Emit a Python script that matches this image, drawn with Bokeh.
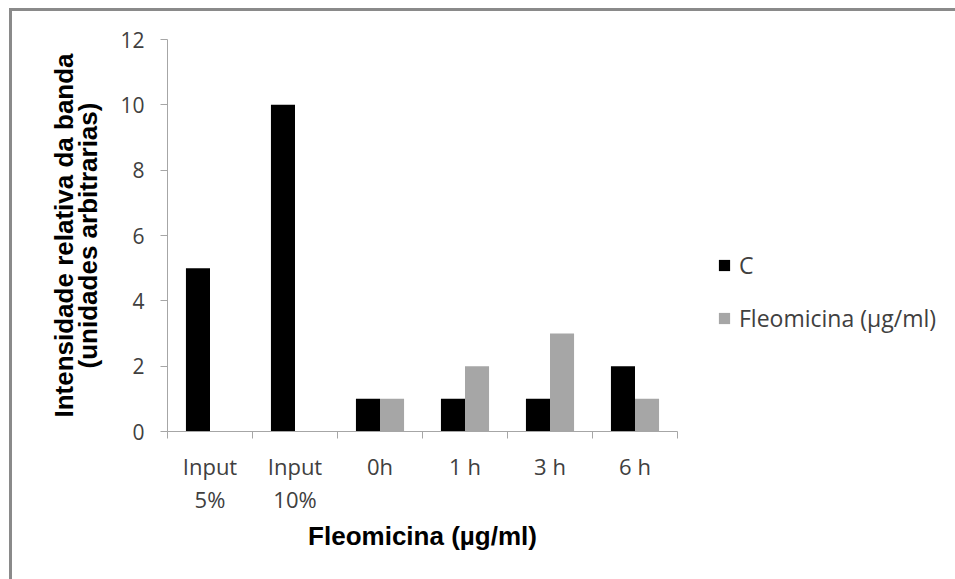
import numpy as np
from bokeh.plotting import figure
from bokeh.models import (Range1d, FixedTicker, Legend, LegendItem, ColumnDataSource)
from bokeh.transform import dodge
from bokeh.embed import file_html
from bokeh.resources import INLINE

# ---- data ----
categories = ["Input\n5%", "Input\n10%", "0h", "1 h", "3 h", "6 h"]
serie_c = [5, 10, 1, 1, 1, 2]
serie_fleo = [0, 0, 1, 2, 3, 1]
series_names = ["C", "Fleomicina (µg/ml)"]
y_ticks = [0, 2, 4, 6, 8, 10, 12]
x_title = "Fleomicina (µg/ml)"
y_title = "Intensidade relativa da banda\n(unidades arbitrarias)"

n = len(categories)
centers = [i + 0.5 for i in range(n)]
bounds = list(range(n + 1))
src = ColumnDataSource(dict(x=centers, c=serie_c, f=serie_fleo))

BLACK = "#000000"
GREY = "#a6a6a6"
AXIS = "#a6a6a6"
TXT = "#404040"

OFF_X, OFF_Y = 12, 11   # outer frame (border) offset
p = figure(frame_width=510, frame_height=392, output_backend="svg",
           toolbar_location=None,
           x_range=Range1d(0, n), y_range=Range1d(0, 12),
           min_border_left=167 - OFF_X, min_border_right=300,
           min_border_top=39 - OFF_Y, min_border_bottom=148)
p.styles = {"margin-left": "9px", "margin-top": "8px",
            "border-left": "3px solid #8a8a8a", "border-top": "3px solid #8a8a8a",
            "border-right": "0px none", "border-bottom": "0px none"}
p.outline_line_color = None
p.xgrid.visible = False
p.ygrid.visible = False
p.background_fill_color = "white"
p.border_fill_color = "white"

bw = 0.283
r_c = p.vbar(x=dodge("x", -bw / 2, range=p.x_range), top="c", width=bw, source=src,
             fill_color=BLACK, line_color=None)
r_f = p.vbar(x=dodge("x", bw / 2, range=p.x_range), top="f", width=bw, source=src,
             fill_color=GREY, line_color=None)

# x axis
xa = p.xaxis[0]
xa.ticker = FixedTicker(ticks=centers, minor_ticks=bounds)
xa.major_label_overrides = {c: lab for c, lab in zip(centers, categories)}
xa.major_tick_out = 0
xa.major_tick_in = 0
xa.minor_tick_out = 7
xa.minor_tick_in = 0
xa.minor_tick_line_color = AXIS
xa.axis_line_color = AXIS
xa.major_label_standoff = 12
xa.major_label_text_font = "Open Sans"
xa.major_label_text_font_size = "22px"
xa.major_label_text_color = TXT
xa.major_label_text_line_height = 1.1
xa.axis_label = x_title
xa.axis_label_text_font = "Liberation Sans"
xa.axis_label_text_font_style = "bold"
xa.axis_label_text_font_size = "26px"
xa.axis_label_text_color = "#000000"
xa.axis_label_standoff = 4

# y axis
ya = p.yaxis[0]
ya.ticker = FixedTicker(ticks=y_ticks)
ya.minor_tick_line_color = None
ya.major_tick_out = 7
ya.major_tick_in = 0
ya.major_tick_line_color = AXIS
ya.axis_line_color = AXIS
ya.major_label_standoff = 16
ya.major_label_text_font = "Open Sans"
ya.major_label_text_font_size = "21px"
ya.major_label_text_color = TXT
ya.axis_label = y_title
ya.axis_label_text_font = "Liberation Sans"
ya.axis_label_text_font_style = "bold"
ya.axis_label_text_font_size = "26px"
ya.axis_label_text_color = "#000000"
ya.axis_label_text_line_height = 0.82
ya.axis_label_standoff = 14

legend = Legend(items=[LegendItem(label=series_names[0], renderers=[r_c]),
                       LegendItem(label=series_names[1], renderers=[r_f])],
                location=(40, 97), orientation="vertical",
                glyph_width=14, glyph_height=14, label_standoff=8,
                label_height=26, spacing=21, padding=0, margin=0,
                border_line_color=None, background_fill_alpha=0,
                label_text_font="Open Sans", label_text_font_size="23px",
                label_text_color=TXT)
p.add_layout(legend, "right")

open("out.html", "w").write(file_html(p, INLINE))
